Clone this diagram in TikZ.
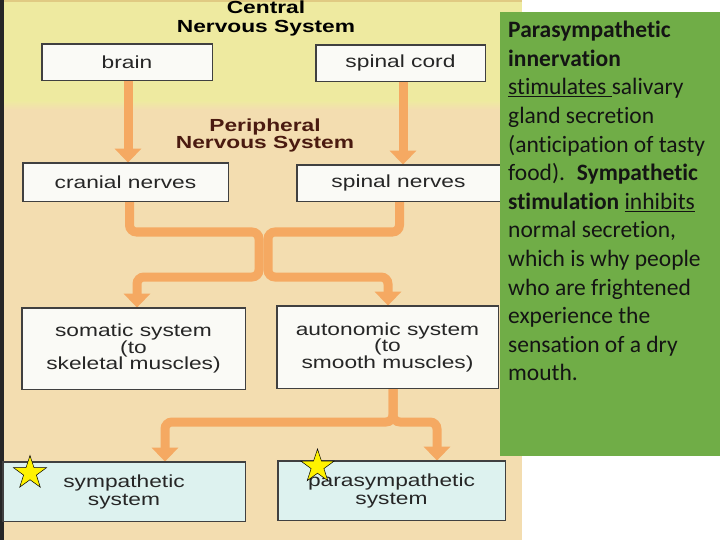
\documentclass[tikz,border=0pt]{standalone}
\usepackage{fontspec}
\setmainfont{Carlito}[Ligatures={NoCommon}]
\newfontfamily\diagfont[FakeStretch=1.3]{Liberation Sans}
\usetikzlibrary{arrows.meta,shapes.geometric}
\definecolor{yellowbg}{HTML}{EEEAA0}
\definecolor{beigebg}{HTML}{F3DDB0}
\definecolor{boxfill}{HTML}{FAFAF6}
\definecolor{cyanfill}{HTML}{DDF2EF}
\definecolor{boxline}{HTML}{404040}
\definecolor{boxtext}{HTML}{262626}
\definecolor{flowcol}{HTML}{F5A962}
\definecolor{panel}{HTML}{70AD47}
\definecolor{pnscol}{HTML}{4A1A10}
\begin{document}
\begin{tikzpicture}[x=1pt,y=-1pt,
  box/.style={draw=boxline, line width=0.8pt, fill=boxfill, inner sep=0pt,
    font=\diagfont\fontsize{17.5}{16.5}\selectfont, text=boxtext, align=center},
  lowbox/.style={box, fill=cyanfill, font=\diagfont\fontsize{17.5}{18}\selectfont},
  title/.style={font=\diagfont\bfseries\fontsize{17.5}{19}\selectfont, align=center, inner sep=0pt},
  flow/.style={draw=flowcol, line width=9pt, rounded corners=7pt},
  tip/.style={-{Triangle[width=26pt,length=14pt]}},
  starmark/.style={star, star points=5, star point ratio=2.6, minimum size=35pt,
    inner sep=0pt, draw=black, line width=0.5pt, fill=yellow}]
\useasboundingbox (0,0) rectangle (720,540);
% backgrounds
\fill[white] (0,0) rectangle (720,540);
\fill[beigebg] (0,0) rectangle (522,540);
\fill[yellowbg] (0,0) rectangle (522,102);
\shade[top color=yellowbg, bottom color=beigebg] (0,101) rectangle (522,110);
\fill[black!85] (0,0) rectangle (4,540);
\fill[yellowbg!70!brown] (4,0) rectangle (522,2);
% titles
\node[title, anchor=north] (cns) at (266,0.5) {Central\\Nervous System};
\node[title, anchor=north, text=pnscol, font=\diagfont\bfseries\fontsize{17.5}{15}\selectfont] (pns) at (265,119) {Peripheral\\Nervous System};
% boxes
\node[box, minimum width=170pt, minimum height=36pt] (brain) at (127,62) {brain};
\node[box, minimum width=169pt, minimum height=36pt] (sc) at (400.5,63) {spinal cord};
\node[box, minimum width=205pt, minimum height=38pt] (cn) at (125.5,182) {cranial nerves};
\node[box, minimum width=203pt, minimum height=36pt] (sn) at (398.5,183) {spinal nerves};
\node[box, minimum width=223pt, minimum height=81pt] (som) at (133.5,348.5) {somatic system\\(to\\skeletal muscles)};
\node[box, minimum width=221pt, minimum height=82pt] (aut) at (387.5,347) {autonomic system\\(to\\smooth muscles)};
\node[lowbox, minimum width=242pt, minimum height=59pt] (sym) at (124,491.5) {sympathetic\\system};
\node[lowbox, minimum width=227pt, minimum height=59pt] (para) at (391.5,490.5) {parasympathetic\\system};
% connectors
\draw[flow,tip] ([xshift=1pt]brain.south) -- ([xshift=1pt]brain.south |- cn.north);
\draw[flow,tip] ([xshift=2.5pt]sc.south) -- ([xshift=2.5pt]sc.south |- sn.north);
\draw[flow,tip] ([xshift=4pt]cn.south) |- (259,232) |- (137,277) -- (137,0 |- som.north);
\draw[flow,tip] ([xshift=1pt]sn.south) |- (268,232) |- (388,277) -- (388,0 |- aut.north);
\draw[flow,tip] ([xshift=5.5pt]aut.south) |- (165,422) -- (165,0 |- sym.north);
\draw[flow,tip] ([xshift=5.5pt]aut.south) |- (437,422) -- (437,0 |- para.north);
% redraw box outlines on top of arrow ends
\foreach \b in {brain,sc,cn,sn,som,aut,sym,para} {\draw[boxline, line width=0.8pt] (\b.north west) rectangle (\b.south east);}
% stars
\node[starmark] (star1) at (30,473) {};
\node[starmark] (star2) at (317.5,466.5) {};
% green panel
\fill[panel] (500,12) rectangle (720,456);
\node[anchor=north west, inner sep=0pt, align=left, text=black!92,
  font=\fontsize{23.5}{28.6}\selectfont] (note) at (508,21)
  {\textbf{Parasympathetic}\\
   \textbf{innervation}\\
   \underline{stimulates\ }salivary\\
   gland secretion\\
   (anticipation of tasty\\
   food).\hspace{0.5em}\textbf{Sympathetic}\\
   \textbf{stimulation} \underline{inhibits}\\
   normal secretion,\\
   which is why people\\
   who are frightened\\
   experience the\\
   sensation of a dry\\
   mouth.};
\end{tikzpicture}
\end{document}
